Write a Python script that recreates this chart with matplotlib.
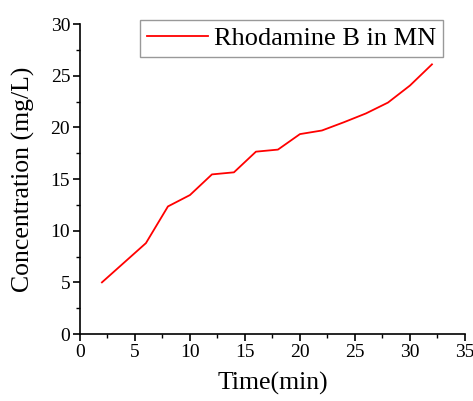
import matplotlib
matplotlib.use('Agg')
import matplotlib.pyplot as plt
from matplotlib.ticker import MultipleLocator

plt.rcParams['font.family'] = ['Liberation Serif', 'DejaVu Serif']
plt.rcParams['mathtext.fontset'] = 'stix'

time_min = [2, 4, 6, 8, 10, 12, 14, 16, 18, 20, 22, 24, 26, 28, 30, 32]
conc = [5.0, 6.9, 8.8, 12.35, 13.45, 15.45, 15.65, 17.65, 17.85,
        19.35, 19.7, 20.5, 21.35, 22.4, 24.05, 26.1]
series_label = 'Rhodamine B in MN'

fig = plt.figure(figsize=(4.73, 4.01), dpi=100)
ax = fig.add_axes([0.169, 0.167, 0.814, 0.773])

ax.plot(time_min, conc, color='red', lw=1.3, label=series_label)

ax.set_xlim(0, 35)
ax.set_ylim(0, 30)
ax.xaxis.set_major_locator(MultipleLocator(5))
ax.xaxis.set_minor_locator(MultipleLocator(2.5))
ax.yaxis.set_major_locator(MultipleLocator(5))
ax.yaxis.set_minor_locator(MultipleLocator(2.5))

for side in ['top', 'right']:
    ax.spines[side].set_visible(False)
for side in ['left', 'bottom']:
    ax.spines[side].set_linewidth(1.2)

ax.tick_params(which='major', direction='out', length=5, width=1.2, labelsize=14, pad=2)
ax.tick_params(which='minor', direction='out', length=3, width=1.0)

ax.set_xlabel('Time(min)', fontsize=18.5, labelpad=8)
ax.set_ylabel('Concentration (mg/L)', fontsize=18.5, labelpad=11)

leg = ax.legend(loc='upper right', bbox_to_anchor=(443 / 473, 1 - 20 / 401),
                bbox_transform=fig.transFigure, fontsize=19,
                frameon=True, fancybox=False, handlelength=2.3,
                borderpad=0.25, handletextpad=0.25, borderaxespad=0.0)
leg.get_frame().set_edgecolor('#808080')
leg.get_frame().set_linewidth(1.0)

fig.savefig('out.png', dpi=100)
